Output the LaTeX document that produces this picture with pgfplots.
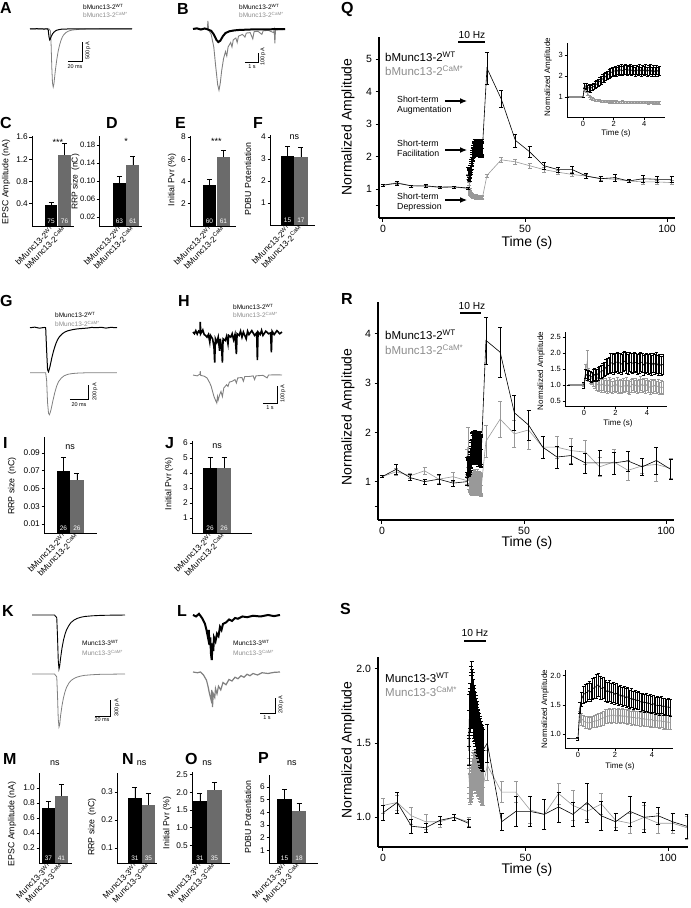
\documentclass[border=0pt]{standalone}
\usepackage{fontspec}
\setmainfont{Liberation Sans}
\usepackage{pgfplots}
\pgfplotsset{compat=1.18}
\usepackage{pgfplotstable}
\usetikzlibrary{arrows.meta}
\definecolor{barg}{gray}{0.42}
\definecolor{lng}{gray}{0.6}
\definecolor{trg}{gray}{0.5}
\definecolor{txg}{gray}{0.55}
\newcommand\fs[1]{\fontsize{#1}{#1}\selectfont}
\newcommand\wt{\textsuperscript{WT}}
\newcommand\cam{\textsuperscript{CaM*}}

\pgfplotsset{
  base/.style={scale only axis, anchor=south west, axis x line*=bottom, axis y line*=left,
    axis line style={-, black}, tick align=outside, clip mode=individual,
    /pgf/number format/assume math mode=true, tick style={black}},
  barax/.style={base, ybar, bar shift=0pt, ymin=0, xtick={0,1}, xtick style={draw=none},
    axis line style={line width=0.7pt}, major tick length=2.5pt, ytick style={line width=0.6pt},
    yticklabel style={font=\fs{8.3}, inner sep=1.5pt},
    xticklabel style={font=\fs{8.3}, rotate=45, anchor=east, inner sep=0.5pt, xshift=3pt}},
  fix1/.style={yticklabel style={/pgf/number format/fixed, /pgf/number format/fixed zerofill, /pgf/number format/precision=1}},
  fix2/.style={yticklabel style={/pgf/number format/fixed, /pgf/number format/fixed zerofill, /pgf/number format/precision=2}},
  b2/.style={xticklabels={bMunc13-2\wt, bMunc13-2\cam}},
  b3/.style={xticklabels={Munc13-3\wt, Munc13-3\cam}},
  wtbar/.style={fill=black, draw=none, /pgfplots/error bars/y dir=plus, /pgfplots/error bars/y explicit,
    /pgfplots/error bars/error bar style={black, line width=0.8pt},
    /pgfplots/error bars/error mark options={black, rotate=90, mark size=2.5pt, line width=0.8pt}},
  cambar/.style={wtbar, fill=barg},
  lineax/.style={base, axis line style={line width=1.1pt}, major tick length=3.5pt,
    tick style={line width=1pt}, ticklabel style={font=\fs{10.5}}},
  insetax/.style={base, axis line style={line width=0.8pt}, major tick length=2.5pt,
    tick style={line width=0.7pt}, ticklabel style={font=\fs{7.5}, inner sep=1.5pt}},
  wtl/.style={black, line width=0.6pt, mark=none, /pgfplots/error bars/y dir=both, /pgfplots/error bars/y explicit,
    /pgfplots/error bars/error bar style={black, line width=0.5pt},
    /pgfplots/error bars/error mark options={black, rotate=90, mark size=2pt, line width=0.5pt}},
  caml/.style={wtl, lng, /pgfplots/error bars/error bar style={lng, line width=0.5pt},
    /pgfplots/error bars/error mark options={lng, rotate=90, mark size=2pt, line width=0.5pt}},
  trace/.style={scale only axis, anchor=south west, hide axis, clip=false},
}
\tikzset{barnum/.style={font=\fs{6.5}, text=white, anchor=south, inner sep=1pt, yshift=1.5pt},
  sig/.style={font=\fs{9}},
  lett/.style={font=\fs{16}\bfseries, anchor=north west, inner sep=0pt},
  tleg/.style={font=\fs{6.5}, anchor=west, inner sep=0pt},
  sbl/.style={font=\fs{5.5}, inner sep=0pt}}

% ---------- 10 Hz train data (time from train onset, s) ----------
\pgfplotstableread[row sep=\\]{t y e\\
-1 1.00 0\\ 0 1.00 0\\
0.1 1.55 0.12\\ 0.2 1.50 0.15\\ 0.3 1.42 0.15\\ 0.4 1.45 0.15\\ 0.5 1.40 0.15\\
0.6 1.48 0.15\\ 0.7 1.50 0.15\\ 0.8 1.58 0.16\\ 0.9 1.62 0.16\\ 1.0 1.70 0.17\\
1.1 1.75 0.18\\ 1.2 1.80 0.18\\ 1.3 1.88 0.19\\ 1.4 1.92 0.20\\ 1.5 2.00 0.20\\
1.6 2.05 0.20\\ 1.7 2.10 0.20\\ 1.8 2.15 0.21\\ 1.9 2.20 0.21\\ 2.0 2.22 0.21\\
2.1 2.25 0.22\\ 2.2 2.20 0.21\\ 2.3 2.30 0.22\\ 2.4 2.25 0.22\\ 2.5 2.32 0.22\\
2.6 2.25 0.22\\ 2.7 2.30 0.22\\ 2.8 2.32 0.22\\ 2.9 2.25 0.22\\ 3.0 2.30 0.22\\
3.1 2.32 0.22\\ 3.2 2.25 0.22\\ 3.3 2.30 0.22\\ 3.4 2.22 0.22\\ 3.5 2.30 0.22\\
3.6 2.26 0.22\\ 3.7 2.32 0.22\\ 3.8 2.22 0.22\\ 3.9 2.30 0.22\\ 4.0 2.25 0.22\\
4.1 2.32 0.22\\ 4.2 2.20 0.22\\ 4.3 2.28 0.22\\ 4.4 2.32 0.22\\ 4.5 2.22 0.22\\
4.6 2.30 0.22\\ 4.7 2.20 0.22\\ 4.8 2.30 0.22\\ 4.9 2.22 0.22\\ 5.0 2.25 0.22\\
}\qwtin
\pgfplotstableread[row sep=\\]{t y e\\
-1 1.00 0\\ 0 1.00 0\\
0.1 1.38 0.08\\ 0.2 1.30 0.08\\ 0.3 1.18 0.07\\ 0.4 1.05 0.06\\ 0.5 0.97 0.06\\
0.6 0.92 0.05\\ 0.7 0.90 0.05\\ 0.8 0.87 0.05\\ 0.9 0.86 0.05\\ 1.0 0.84 0.05\\
1.1 0.83 0.05\\ 1.2 0.82 0.05\\ 1.3 0.80 0.05\\ 1.4 0.81 0.05\\ 1.5 0.79 0.05\\
1.6 0.80 0.05\\ 1.7 0.78 0.05\\ 1.8 0.79 0.05\\ 1.9 0.77 0.05\\ 2.0 0.78 0.05\\
2.1 0.77 0.05\\ 2.2 0.78 0.05\\ 2.3 0.76 0.05\\ 2.4 0.77 0.05\\ 2.5 0.76 0.05\\
2.6 0.78 0.05\\ 2.7 0.76 0.05\\ 2.8 0.77 0.05\\ 2.9 0.75 0.05\\ 3.0 0.77 0.05\\
3.1 0.76 0.05\\ 3.2 0.75 0.05\\ 3.3 0.77 0.05\\ 3.4 0.75 0.05\\ 3.5 0.76 0.05\\
3.6 0.74 0.05\\ 3.7 0.76 0.05\\ 3.8 0.75 0.05\\ 3.9 0.74 0.05\\ 4.0 0.76 0.05\\
4.1 0.74 0.05\\ 4.2 0.75 0.05\\ 4.3 0.73 0.05\\ 4.4 0.75 0.05\\ 4.5 0.74 0.05\\
4.6 0.73 0.05\\ 4.7 0.75 0.05\\ 4.8 0.73 0.05\\ 4.9 0.74 0.05\\ 5.0 0.73 0.05\\
}\qcamin
\pgfplotstableread[row sep=\\]{t y e\\
-1 1.00 0\\ 0 1.00 0.10\\
0.1 1.35 0.15\\ 0.2 1.30 0.15\\ 0.3 1.32 0.15\\ 0.4 1.28 0.15\\ 0.5 1.25 0.15\\
0.6 1.30 0.18\\ 0.7 1.33 0.18\\ 0.8 1.30 0.18\\ 0.9 1.36 0.20\\ 1.0 1.40 0.20\\
1.1 1.42 0.20\\ 1.2 1.45 0.22\\ 1.3 1.50 0.22\\ 1.4 1.55 0.25\\ 1.5 1.60 0.25\\
1.6 1.62 0.25\\ 1.7 1.68 0.30\\ 1.8 1.70 0.30\\ 1.9 1.65 0.30\\ 2.0 1.70 0.30\\
2.1 1.72 0.30\\ 2.2 1.68 0.30\\ 2.3 1.70 0.30\\ 2.4 1.65 0.30\\ 2.5 1.72 0.30\\
2.6 1.75 0.30\\ 2.7 1.70 0.32\\ 2.8 1.65 0.30\\ 2.9 1.72 0.30\\ 3.0 1.70 0.30\\
3.1 1.68 0.30\\ 3.2 1.72 0.30\\ 3.3 1.70 0.30\\ 3.4 1.65 0.30\\ 3.5 1.68 0.30\\
3.6 1.72 0.30\\ 3.7 1.70 0.30\\ 3.8 1.62 0.30\\ 3.9 1.66 0.30\\ 4.0 1.70 0.30\\
4.1 1.65 0.30\\ 4.2 1.68 0.30\\ 4.3 1.62 0.30\\ 4.4 1.70 0.30\\ 4.5 1.65 0.30\\
4.6 1.70 0.32\\ 4.7 1.62 0.30\\ 4.8 1.66 0.30\\ 4.9 1.60 0.30\\ 5.0 1.65 0.30\\
}\rwtin
\pgfplotstableread[row sep=\\]{t y e\\
-1 1.00 0\\ 0 1.00 0.05\\
0.1 1.40 0.25\\ 0.2 1.70 0.40\\ 0.3 1.32 0.20\\ 0.4 1.25 0.18\\ 0.5 1.20 0.18\\
0.6 1.15 0.18\\ 0.7 1.10 0.20\\ 0.8 1.05 0.20\\ 0.9 1.00 0.20\\ 1.0 1.02 0.20\\
1.1 0.98 0.20\\ 1.2 1.03 0.20\\ 1.3 0.96 0.20\\ 1.4 1.00 0.20\\ 1.5 0.95 0.20\\
1.6 1.02 0.22\\ 1.7 0.97 0.20\\ 1.8 0.93 0.20\\ 1.9 1.00 0.20\\ 2.0 0.96 0.20\\
2.1 1.02 0.22\\ 2.2 0.95 0.20\\ 2.3 0.98 0.20\\ 2.4 0.94 0.20\\ 2.5 1.00 0.20\\
2.6 0.96 0.20\\ 2.7 1.03 0.22\\ 2.8 0.95 0.20\\ 2.9 0.92 0.20\\ 3.0 0.98 0.20\\
3.1 1.02 0.20\\ 3.2 0.96 0.20\\ 3.3 1.00 0.20\\ 3.4 0.94 0.20\\ 3.5 0.98 0.20\\
3.6 1.04 0.22\\ 3.7 0.97 0.20\\ 3.8 1.00 0.20\\ 3.9 0.95 0.20\\ 4.0 1.02 0.20\\
4.1 0.96 0.20\\ 4.2 0.92 0.20\\ 4.3 0.98 0.20\\ 4.4 0.94 0.20\\ 4.5 0.99 0.20\\
4.6 0.93 0.20\\ 4.7 0.97 0.20\\ 4.8 0.90 0.20\\ 4.9 0.95 0.20\\ 5.0 0.92 0.20\\
}\rcamin
\pgfplotstableread[row sep=\\]{t y e\\
-0.5 0.92 0\\ 0 0.92 0.02\\
0.1 1.45 0.10\\ 0.2 1.60 0.12\\ 0.3 1.68 0.15\\ 0.4 1.70 0.15\\ 0.5 1.72 0.15\\
0.6 1.75 0.15\\ 0.7 1.72 0.15\\ 0.8 1.78 0.18\\ 0.9 1.80 0.18\\ 1.0 1.82 0.20\\
1.1 1.85 0.20\\ 1.2 1.80 0.20\\ 1.3 1.78 0.18\\ 1.4 1.80 0.18\\ 1.5 1.75 0.18\\
1.6 1.72 0.17\\ 1.7 1.75 0.18\\ 1.8 1.70 0.17\\ 1.9 1.72 0.17\\ 2.0 1.68 0.17\\
2.1 1.70 0.17\\ 2.2 1.66 0.16\\ 2.3 1.68 0.16\\ 2.4 1.64 0.16\\ 2.5 1.66 0.16\\
2.6 1.62 0.16\\ 2.7 1.64 0.16\\ 2.8 1.60 0.16\\ 2.9 1.62 0.16\\ 3.0 1.58 0.16\\
3.1 1.60 0.16\\ 3.2 1.57 0.15\\ 3.3 1.58 0.15\\ 3.4 1.55 0.15\\ 3.5 1.56 0.15\\
3.6 1.53 0.15\\ 3.7 1.55 0.15\\ 3.8 1.52 0.15\\ 3.9 1.53 0.15\\ 4.0 1.50 0.15\\
4.1 1.52 0.15\\ 4.2 1.49 0.15\\ 4.3 1.50 0.15\\ 4.4 1.48 0.15\\ 4.5 1.50 0.15\\
4.6 1.47 0.14\\ 4.7 1.48 0.14\\ 4.8 1.46 0.14\\ 4.9 1.47 0.14\\ 5.0 1.45 0.14\\
}\swtin
\pgfplotstableread[row sep=\\]{t y e\\
-0.5 0.92 0\\ 0 0.92 0.02\\
0.1 1.30 0.10\\ 0.2 1.26 0.10\\ 0.3 1.23 0.10\\ 0.4 1.20 0.10\\ 0.5 1.20 0.10\\
0.6 1.19 0.10\\ 0.7 1.20 0.10\\ 0.8 1.21 0.10\\ 0.9 1.22 0.10\\ 1.0 1.23 0.11\\
1.1 1.24 0.11\\ 1.2 1.25 0.11\\ 1.3 1.27 0.11\\ 1.4 1.28 0.12\\ 1.5 1.30 0.12\\
1.6 1.30 0.12\\ 1.7 1.32 0.12\\ 1.8 1.31 0.12\\ 1.9 1.33 0.12\\ 2.0 1.32 0.12\\
2.1 1.31 0.12\\ 2.2 1.33 0.12\\ 2.3 1.30 0.12\\ 2.4 1.32 0.12\\ 2.5 1.30 0.12\\
2.6 1.31 0.12\\ 2.7 1.29 0.12\\ 2.8 1.30 0.12\\ 2.9 1.28 0.12\\ 3.0 1.29 0.12\\
3.1 1.28 0.12\\ 3.2 1.27 0.12\\ 3.3 1.28 0.12\\ 3.4 1.26 0.12\\ 3.5 1.27 0.12\\
3.6 1.25 0.12\\ 3.7 1.26 0.12\\ 3.8 1.25 0.12\\ 3.9 1.24 0.12\\ 4.0 1.25 0.12\\
4.1 1.23 0.12\\ 4.2 1.24 0.12\\ 4.3 1.23 0.12\\ 4.4 1.22 0.12\\ 4.5 1.23 0.12\\
4.6 1.21 0.12\\ 4.7 1.22 0.12\\ 4.8 1.21 0.12\\ 4.9 1.20 0.12\\ 5.0 1.20 0.12\\
}\scamin

% ---------- 0.2 Hz test pulses before and after the train ----------
\pgfplotstableread[row sep=\\]{t y e\\ 0 1.12 0.03\\ 5 1.18 0.05\\ 10 1.10 0.03\\ 15 1.10 0.04\\ 20 1.06 0.04\\ 25 1.07 0.03\\ 30 1.03 0.04\\}\qwtpre
\pgfplotstableread[row sep=\\]{t y e\\ 0 1.12 0.03\\ 5 1.20 0.04\\ 10 1.10 0.03\\ 15 1.09 0.03\\ 20 1.05 0.03\\ 25 1.06 0.03\\ 30 1.02 0.03\\}\qcampre
\pgfplotstableread[row sep=\\]{t y e\\ 35 2.25 0\\ 36.6 4.72 0.50\\ 41.6 3.78 0.25\\ 46.6 2.50 0.20\\ 51.6 2.15 0.18\\ 56.6 1.72 0.10\\ 61.6 1.60 0.08\\ 66.6 1.60 0.10\\ 71.6 1.40 0.08\\ 76.6 1.32 0.07\\ 81.6 1.35 0.10\\ 86.6 1.25 0.05\\ 91.6 1.32 0.10\\ 96.6 1.30 0.08\\ 101.6 1.30 0.08\\}\qwtpost
\pgfplotstableread[row sep=\\]{t y e\\ 35 0.73 0\\ 36.6 1.42 0.05\\ 41.6 1.90 0.08\\ 46.6 1.84 0.07\\ 51.6 1.72 0.08\\ 56.6 1.60 0.07\\ 61.6 1.52 0.06\\ 66.6 1.45 0.07\\ 71.6 1.40 0.06\\ 76.6 1.33 0.05\\ 81.6 1.30 0.06\\ 86.6 1.25 0.05\\ 91.6 1.22 0.07\\ 96.6 1.22 0.06\\ 101.6 1.20 0.06\\}\qcampost
\pgfplotstableread[row sep=\\]{t y e\\ 0 1.10 0.02\\ 5 1.25 0.10\\ 10 1.08 0.06\\ 15 1.00 0.05\\ 20 1.05 0.10\\ 25 0.97 0.06\\ 30 1.00 0.08\\}\rwtpre
\pgfplotstableread[row sep=\\]{t y e\\ 0 1.10 0.02\\ 5 1.20 0.08\\ 10 1.12 0.05\\ 15 1.22 0.08\\ 20 1.05 0.08\\ 25 1.10 0.10\\ 30 1.02 0.08\\}\rcampre
\pgfplotstableread[row sep=\\]{t y e\\ 35 1.65 0\\ 36.6 3.87 0.48\\ 41.6 3.63 0.50\\ 46.6 2.40 0.35\\ 51.6 2.15 0.30\\ 56.6 1.70 0.22\\ 61.6 1.50 0.22\\ 66.6 1.53 0.18\\ 71.6 1.38 0.20\\ 76.6 1.38 0.25\\ 81.6 1.38 0.22\\ 86.6 1.42 0.20\\ 91.6 1.30 0.18\\ 96.6 1.43 0.27\\ 101.6 1.25 0.20\\}\rwtpost
\pgfplotstableread[row sep=\\]{t y e\\ 35 0.92 0\\ 36.6 1.82 0.32\\ 41.6 2.27 0.37\\ 46.6 1.97 0.28\\ 51.6 2.05 0.40\\ 56.6 1.70 0.22\\ 61.6 1.70 0.22\\ 66.6 1.63 0.25\\ 71.6 1.60 0.25\\ 76.6 1.30 0.20\\ 81.6 1.40 0.25\\ 86.6 1.23 0.20\\ 91.6 1.32 0.15\\ 96.6 1.35 0.35\\ 101.6 1.27 0.20\\}\rcampost
\pgfplotstableread[row sep=\\]{t y e\\ 0 1.03 0.05\\ 5 1.10 0.07\\ 10 0.94 0.05\\ 15 0.93 0.03\\ 20 0.98 0.03\\ 25 1.00 0.02\\ 30 0.96 0.03\\}\swtpre
\pgfplotstableread[row sep=\\]{t y e\\ 0 1.08 0.05\\ 5 1.10 0.05\\ 10 1.01 0.06\\ 15 0.97 0.05\\ 20 0.97 0.04\\ 25 1.00 0.02\\ 30 0.97 0.03\\}\scampre
\pgfplotstableread[row sep=\\]{t y e\\ 35 1.45 0\\ 36.6 1.50 0.13\\ 41.6 0.97 0.06\\ 46.6 1.04 0.10\\ 51.6 1.04 0.10\\ 56.6 1.02 0.10\\ 61.6 1.07 0.10\\ 66.6 1.02 0.08\\ 71.6 1.10 0.13\\ 76.6 1.01 0.10\\ 81.6 0.97 0.06\\ 86.6 1.04 0.10\\ 91.6 1.00 0.10\\ 96.6 1.01 0.06\\ 101.6 0.97 0.06\\ 106.6 0.94 0.08\\}\swtpost
\pgfplotstableread[row sep=\\]{t y e\\ 35 1.20 0\\ 36.6 1.35 0.10\\ 41.6 1.17 0.07\\ 46.6 1.17 0.07\\ 51.6 1.05 0.09\\ 56.6 1.02 0.10\\ 61.6 1.16 0.07\\ 66.6 1.08 0.10\\ 71.6 1.04 0.05\\ 76.6 1.09 0.07\\ 81.6 0.98 0.05\\ 86.6 0.96 0.07\\ 91.6 1.00 0.08\\ 96.6 0.96 0.07\\ 101.6 0.96 0.07\\ 106.6 0.93 0.08\\}\scampost

\begin{document}
\begin{tikzpicture}
\path[use as bounding box] (0,0) rectangle (691pt,-908pt);

% ===================== traces =====================
% A
\begin{axis}[trace, at={(30pt,-89pt)}, width=102pt, height=64pt, xmin=0, xmax=145, ymin=-1550, ymax=100]
\addplot[trg, line width=0.8pt] coordinates {(0,0) (27,0) (29,-50) (30,-400) (31,-1000) (32,-1400) (33,-1500) (34,-1420) (35,-1250) (36,-1080) (38,-800) (40,-580) (42,-420) (44,-300) (46,-210) (48,-150) (51,-95) (55,-55) (60,-30) (70,-12) (80,-5) (100,0) (145,0)};
\addplot[black, line width=1pt] coordinates {(0,0) (10,4) (20,-4) (25,0) (26,-40) (27,-200) (28,-285) (29,-260) (30,-200) (32,-130) (34,-85) (36,-55) (38,-35) (41,-20) (44,-10) (48,-5) (60,0) (70,-3) (80,0) (90,2) (100,0) (110,-2) (120,0) (130,2) (145,0)};
\addplot[black, line width=0.9pt] coordinates {(54,-836) (74,-836) (74,-336)};
\end{axis}
% B
\begin{axis}[trace, at={(193pt,-92pt)}, width=92pt, height=72pt, xmin=0, xmax=7.08, ymin=-700, ymax=100]
\addplot[trg, line width=0.9pt] coordinates {(0,0) (1.1,0) (1.15,90) (1.2,-10) (1.4,-60) (1.6,-200) (1.75,-420) (1.9,-620) (2.0,-680) (2.1,-600) (2.2,-470) (2.35,-330) (2.5,-250) (2.6,-300) (2.7,-200) (2.9,-150) (3.0,-200) (3.1,-120) (3.3,-100) (3.4,-150) (3.5,-80) (3.8,-60) (4.0,-90) (4.1,-45) (4.4,-40) (4.6,-110) (4.7,-30) (5.0,-25) (5.3,-60) (5.4,-20) (5.8,-15) (6.2,-40) (6.25,-10) (6.3,-160) (6.35,-10) (7.08,-5)};
\addplot[black, line width=2pt] coordinates {(0,0) (0.3,8) (0.6,-6) (0.9,6) (1.1,-3) (1.4,-20) (1.6,-60) (1.8,-120) (1.95,-145) (2.1,-130) (2.3,-80) (2.5,-45) (2.8,-25) (3.2,-15) (3.6,-10) (4.0,-8) (4.5,-5) (5.0,-5) (5.5,-3) (6.0,-3) (6.5,0) (7.08,0)};
\addplot[black, line width=0.9pt] coordinates {(4.0,-367) (5.0,-367) (5.0,-267)};
\end{axis}
% G
\begin{axis}[trace, at={(30pt,-420pt)}, width=87pt, height=100.3pt, xmin=0, xmax=91.6, ymin=-1230, ymax=107]
\addplot[black, line width=1pt] coordinates {(0,0) (5,8) (10,-6) (15,4) (16.5,0) (17.5,-300) (18.5,-560) (19.5,-587) (21,-520) (23,-400) (25,-300) (27,-220) (29,-160) (31,-120) (34,-80) (37,-55) (40,-40) (45,-25) (50,-15) (55,-10) (60,-5) (65,4) (70,0) (75,6) (80,-5) (85,5) (91.6,0)};
\addplot[trg, line width=0.8pt] coordinates {(0,-600) (16.5,-600) (17.5,-700) (18.5,-1000) (19.5,-1140) (20.5,-1160) (22,-1100) (24,-980) (26,-870) (28,-780) (30,-720) (33,-670) (36,-640) (40,-620) (45,-610) (50,-605) (60,-600) (91.6,-600)};
\addplot[black, line width=0.9pt] coordinates {(42,-960) (62,-960) (62,-760)};
\end{axis}
% H
\begin{axis}[trace, at={(193pt,-410pt)}, width=89pt, height=88pt, xmin=0, xmax=6.36, ymin=-459, ymax=59]
\addplot[black, line width=1.6pt] coordinates {(0,0) (0.1,-10) (0.2,8) (0.3,-12) (0.4,5) (0.5,-5) (0.52,60) (0.55,-10) (0.7,12) (0.8,-15) (0.9,-20) (1.0,-30) (1.1,-15) (1.2,-60) (1.25,-20) (1.4,-40) (1.5,-90) (1.55,-180) (1.6,-40) (1.7,-60) (1.8,-30) (1.9,-110) (1.95,-40) (2.05,-100) (2.1,-180) (2.15,-40) (2.3,-50) (2.4,-25) (2.5,-70) (2.55,-20) (2.7,-30) (2.8,-10) (2.9,-45) (3.0,-15) (3.1,-130) (3.15,-10) (3.3,-20) (3.4,5) (3.5,-30) (3.6,0) (3.8,-40) (3.9,5) (4.0,-15) (4.2,8) (4.4,-20) (4.55,-5) (4.6,-165) (4.65,0) (4.8,-15) (4.9,10) (5.0,-20) (5.2,5) (5.4,-10) (5.55,-5) (5.6,-120) (5.65,5) (5.8,-15) (6.0,8) (6.2,-10) (6.36,0)};
\addplot[trg, line width=0.9pt] coordinates {(0,-253) (0.3,-258) (0.5,-248) (0.52,-230) (0.55,-255) (0.8,-260) (1.0,-270) (1.2,-300) (1.3,-320) (1.4,-350) (1.5,-380) (1.6,-400) (1.7,-418) (1.75,-380) (1.8,-400) (1.9,-370) (2.0,-350) (2.1,-380) (2.2,-330) (2.4,-310) (2.5,-320) (2.6,-295) (2.8,-290) (3.0,-280) (3.1,-300) (3.2,-270) (3.5,-268) (3.6,-290) (3.7,-262) (4.0,-262) (4.3,-258) (4.4,-280) (4.5,-258) (5.0,-255) (5.3,-270) (5.4,-253) (6.0,-252) (6.36,-253)};
\addplot[black, line width=0.9pt] coordinates {(5.0,-418) (6.0,-418) (6.0,-318)};
\end{axis}
% K
\begin{axis}[trace, at={(32pt,-730pt)}, width=93pt, height=120pt, xmin=0, xmax=124, ymin=-2157, ymax=94]
\addplot[black, line width=0.9pt] coordinates {(0,0) (30,0) (33,-50) (34,-400) (35,-850) (36,-1013) (37,-950) (38,-820) (40,-620) (42,-470) (44,-360) (46,-280) (49,-200) (52,-140) (56,-95) (60,-65) (65,-42) (70,-28) (80,-15) (90,-8) (100,-4) (124,0)};
\addplot[trg, line width=0.8pt] coordinates {(0,-1106) (30,-1106) (33,-1160) (34,-1500) (35,-1950) (36,-2100) (37,-2050) (38,-1900) (40,-1700) (42,-1550) (44,-1440) (46,-1360) (49,-1280) (52,-1230) (56,-1190) (60,-1165) (65,-1145) (70,-1132) (80,-1120) (90,-1113) (124,-1106)};
\addplot[black, line width=0.9pt] coordinates {(84,-1895) (104,-1895) (104,-1595)};
\end{axis}
% L
\begin{axis}[trace, at={(193pt,-716pt)}, width=87pt, height=108pt, xmin=0, xmax=5.8, ymin=-1347, ymax=93]
\addplot[black, line width=2pt] coordinates {(0,0) (0.2,-20) (0.4,15) (0.6,-40) (0.8,-120) (0.9,-200) (1.0,-300) (1.05,-200) (1.1,-400) (1.15,-300) (1.2,-520) (1.25,-600) (1.3,-380) (1.35,-480) (1.4,-300) (1.5,-350) (1.6,-250) (1.7,-280) (1.8,-160) (1.9,-200) (2.0,-120) (2.2,-100) (2.4,-60) (2.6,-80) (2.8,-40) (3.0,-50) (3.3,-20) (3.6,-30) (4.0,-10) (4.5,-20) (5.0,0) (5.4,-15) (5.8,0)};
\addplot[trg, line width=1.2pt] coordinates {(0,-760) (0.3,-770) (0.5,-760) (0.7,-800) (0.9,-870) (1.0,-950) (1.1,-1050) (1.2,-1130) (1.25,-1000) (1.3,-1227) (1.35,-1050) (1.45,-1100) (1.5,-980) (1.6,-1050) (1.7,-950) (1.85,-1000) (2.0,-900) (2.2,-930) (2.4,-860) (2.6,-880) (2.8,-830) (3.0,-850) (3.2,-810) (3.4,-830) (3.6,-790) (3.8,-810) (4.0,-780) (4.3,-800) (4.6,-770) (5.0,-780) (5.4,-765) (5.8,-760)};
\addplot[black, line width=0.9pt] coordinates {(4.47,-1307) (5.47,-1307) (5.47,-1107)};
\end{axis}

% ===================== bar panels =====================
% C
\begin{axis}[barax, b2, fix1, at={(32pt,-226pt)}, width=42pt, height=90pt, xmin=-1.41, xmax=1.70, ymax=1.62, ytick={0.4,0.8,1.2,1.6}, bar width=12.5pt]
\addplot[wtbar] coordinates {(0,0.38) +- (0,0.05)};
\addplot[cambar] coordinates {(1,1.28) +- (0,0.21)};
\node[barnum] at (axis cs:0,0) {75}; \node[barnum] at (axis cs:1,0) {76};
\node[sig] at (axis cs:0.5,1.51) {***};
\end{axis}
% D
\begin{axis}[barax, b2, fix2, at={(99pt,-226pt)}, width=43pt, height=90pt, xmin=-1.52, xmax=1.67, ymax=0.2, ytick={0.02,0.06,0.10,0.14,0.18}, bar width=13pt,
  yticklabel style={font=\fs{7.8}, inner sep=1pt}]
\addplot[wtbar] coordinates {(0,0.096) +- (0,0.015)};
\addplot[cambar] coordinates {(1,0.135) +- (0,0.019)};
\node[barnum] at (axis cs:0,0) {63}; \node[barnum] at (axis cs:1,0) {61};
\node[sig] at (axis cs:0.5,0.187) {*};
\end{axis}
% E
\begin{axis}[barax, b2, at={(190pt,-226pt)}, width=46pt, height=90pt, xmin=-1.39, xmax=1.9, ymax=8.1, ytick={2,4,6,8}, bar width=13.5pt]
\addplot[wtbar] coordinates {(0,3.7) +- (0,0.45)};
\addplot[cambar] coordinates {(1,6.2) +- (0,0.6)};
\node[barnum] at (axis cs:0,0) {60}; \node[barnum] at (axis cs:1,0) {61};
\node[sig] at (axis cs:0.5,7.6) {***};
\end{axis}
% F
\begin{axis}[barax, b2, at={(270pt,-225pt)}, width=45pt, height=90pt, xmin=-1.3, xmax=2.04, ymax=4.09, ytick={1,2,3,4}, bar width=13.5pt]
\addplot[wtbar] coordinates {(0,3.12) +- (0,0.43)};
\addplot[cambar] coordinates {(1,3.08) +- (0,0.45)};
\node[barnum] at (axis cs:0,0) {15}; \node[barnum] at (axis cs:1,0) {17};
\node[sig] at (axis cs:0.5,4.0) {ns};
\end{axis}
% I
\begin{axis}[barax, b2, fix2, at={(44pt,-533pt)}, width=53pt, height=96pt, xmin=-1.44, xmax=2.48, ymax=0.108, ytick={0.01,0.03,0.05,0.07,0.09}, bar width=13.5pt]
\addplot[wtbar] coordinates {(0,0.070) +- (0,0.0145)};
\addplot[cambar] coordinates {(1,0.0595) +- (0,0.008)};
\node[barnum] at (axis cs:0,0) {26}; \node[barnum] at (axis cs:1,0) {26};
\node[sig] at (axis cs:0.5,0.097) {ns};
\end{axis}
% J
\begin{axis}[barax, b2, at={(192pt,-533pt)}, width=60pt, height=92pt, xmin=-1.29, xmax=3.0, ymax=6.13, ytick={1,2,3,4,5,6}, bar width=14pt]
\addplot[wtbar] coordinates {(0,4.35) +- (0,0.68)};
\addplot[cambar] coordinates {(1,4.32) +- (0,0.7)};
\node[barnum] at (axis cs:0,0) {26}; \node[barnum] at (axis cs:1,0) {26};
\node[sig] at (axis cs:0.5,5.8) {ns};
\end{axis}
% M
\begin{axis}[barax, b3, fix1, at={(39pt,-863pt)}, width=33pt, height=90pt, xmin=-0.73, xmax=1.81, ymax=1.2, ytick={0.2,0.4,0.6,0.8,1.0}, bar width=13pt]
\addplot[wtbar] coordinates {(0,0.73) +- (0,0.085)};
\addplot[cambar] coordinates {(1,0.89) +- (0,0.16)};
\node[barnum] at (axis cs:0,0) {37}; \node[barnum] at (axis cs:1,0) {41};
\node[sig] at (axis cs:0.5,1.33) {ns};
\end{axis}
% N
\begin{axis}[barax, b3, fix1, at={(117pt,-863pt)}, width=40pt, height=90pt, xmin=-1.33, xmax=1.63, ymin=0.046, ymax=0.368, ytick={0.1,0.2,0.3}, bar width=13.5pt]
\addplot[wtbar] coordinates {(0,0.277) +- (0,0.038)};
\addplot[cambar] coordinates {(1,0.252) +- (0,0.043)};
\node[barnum] at (axis cs:0,0.046) {31}; \node[barnum] at (axis cs:1,0.046) {35};
\node[sig] at (axis cs:0.5,0.403) {ns};
\end{axis}
% O
\begin{axis}[barax, b3, fix1, at={(192pt,-863pt)}, width=38pt, height=91pt, xmin=-0.55, xmax=2.07, ymax=2.57, ytick={0.5,1.0,1.5,2.0,2.5}, bar width=14.5pt]
\addplot[wtbar] coordinates {(0,1.74) +- (0,0.22)};
\addplot[cambar] coordinates {(1,2.07) +- (0,0.2)};
\node[barnum] at (axis cs:0,0) {31}; \node[barnum] at (axis cs:1,0) {35};
\node[sig] at (axis cs:0.5,2.82) {ns};
\end{axis}
% P
\begin{axis}[barax, b3, at={(269pt,-863pt)}, width=49pt, height=88pt, xmin=-1.07, xmax=2.31, ymax=6.95, ytick={1,2,3,4,5,6}, bar width=14.5pt]
\addplot[wtbar] coordinates {(0,5.02) +- (0,0.78)};
\addplot[cambar] coordinates {(1,4.12) +- (0,0.6)};
\node[barnum] at (axis cs:0,0) {15}; \node[barnum] at (axis cs:1,0) {18};
\node[sig] at (axis cs:0.5,7.9) {ns};
\end{axis}

% ===================== Q =====================
\begin{axis}[lineax, at={(379pt,-218pt)}, width=296pt, height=181pt, xmin=-1.4, xmax=102.8, ymin=0.11, ymax=5.68,
  xtick={0,50,100}, ytick={0.5,1,2,3,4,5}, yticklabels={,1,2,3,4,5}]
\addplot[caml] table[x=t, y=y, y error=e] {\qcampre};
\addplot[caml, skip coords between index={0}{2}] table[x expr=\thisrow{t}+30, y=y, y error=e] {\qcamin};
\addplot[caml] table[x=t, y=y, y error=e] {\qcampost};
\addplot[wtl] table[x=t, y=y, y error=e] {\qwtpre};
\addplot[wtl, skip coords between index={0}{2}] table[x expr=\thisrow{t}+30, y=y, y error=e] {\qwtin};
\addplot[wtl] table[x=t, y=y, y error=e] {\qwtpost};
\end{axis}
\begin{axis}[insetax, at={(567pt,-117pt)}, width=98pt, height=74pt, xmin=-1.05, xmax=5.36, ymin=0.05, ymax=3.57, xtick={0,2,4}, ytick={1,2,3}]
\addplot[caml, /pgfplots/error bars/error mark options={lng, rotate=90, mark size=1.5pt}] table[x=t, y=y, y error=e] {\qcamin};
\addplot[wtl, /pgfplots/error bars/error mark options={black, rotate=90, mark size=1.5pt}] table[x=t, y=y, y error=e] {\qwtin};
\end{axis}

% ===================== R =====================
\begin{axis}[lineax, at={(378pt,-520pt)}, width=296pt, height=218pt, xmin=-1.4, xmax=102.8, ymin=0.22, ymax=4.65,
  xtick={0,50,100}, ytick={0.5,1,2,3,4}, yticklabels={,1,2,3,4}]
\addplot[caml] table[x=t, y=y, y error=e] {\rcampre};
\addplot[caml, skip coords between index={0}{2}] table[x expr=\thisrow{t}+30, y=y, y error=e] {\rcamin};
\addplot[caml] table[x=t, y=y, y error=e] {\rcampost};
\addplot[wtl] table[x=t, y=y, y error=e] {\rwtpre};
\addplot[wtl, skip coords between index={0}{2}] table[x expr=\thisrow{t}+30, y=y, y error=e] {\rwtin};
\addplot[wtl] table[x=t, y=y, y error=e] {\rwtpost};
\end{axis}
\begin{axis}[insetax, fix1, at={(565pt,-406pt)}, width=102pt, height=74pt, xmin=-1.2, xmax=5.27, ymin=0.34, ymax=2.66, xtick={0,2,4}, ytick={0.5,1.0,1.5,2.0,2.5}]
\addplot[caml, /pgfplots/error bars/error mark options={lng, rotate=90, mark size=1.5pt}] table[x=t, y=y, y error=e] {\rcamin};
\addplot[wtl, /pgfplots/error bars/error mark options={black, rotate=90, mark size=1.5pt}] table[x=t, y=y, y error=e] {\rwtin};
\end{axis}

% ===================== S =====================
\begin{axis}[lineax, fix1, at={(378pt,-847pt)}, width=310pt, height=190pt, xmin=-1.75, xmax=107, ymin=0.8, ymax=2.08,
  xtick={0,50,100}, ytick={1.0,1.5,2.0}]
\addplot[caml] table[x=t, y=y, y error=e] {\scampre};
\addplot[caml, skip coords between index={0}{2}] table[x expr=\thisrow{t}+30, y=y, y error=e] {\scamin};
\addplot[caml] table[x=t, y=y, y error=e] {\scampost};
\addplot[wtl] table[x=t, y=y, y error=e] {\swtpre};
\addplot[wtl, skip coords between index={0}{2}] table[x expr=\thisrow{t}+30, y=y, y error=e] {\swtin};
\addplot[wtl] table[x=t, y=y, y error=e] {\swtpost};
\end{axis}
\begin{axis}[insetax, fix1, at={(565pt,-748pt)}, width=108pt, height=78pt, xmin=-0.7, xmax=5.14, ymin=0.76, ymax=2.1, xtick={0,2,4}, ytick={1.0,1.5,2.0}]
\addplot[caml, /pgfplots/error bars/error mark options={lng, rotate=90, mark size=1.5pt}] table[x=t, y=y, y error=e] {\scamin};
\addplot[wtl, /pgfplots/error bars/error mark options={black, rotate=90, mark size=1.5pt}] table[x=t, y=y, y error=e] {\swtin};
\end{axis}

% ===================== text =====================
\begin{scope}[x=1pt, y=-1pt]
% panel letters
\foreach \l/\x/\y in {A/0/2, B/177/3, C/0/117, D/106/117, E/175/117, F/253/117, Q/341/2,
  G/0/295, H/178/295, R/341/293, I/3/437, J/165/437, K/2/605, L/177/605, S/340/603,
  M/3/753, N/122/753, O/185/753, P/258/752}
  \node[lett] at (\x,\y) {\l};
% trace legends
\node[tleg] at (83,7) {bMunc13-2\wt}; \node[tleg, text=txg] at (83,15) {bMunc13-2\cam};
\node[tleg] at (239,7) {bMunc13-2\wt}; \node[tleg, text=txg] at (239,15) {bMunc13-2\cam};
\node[tleg] at (55,315) {bMunc13-2\wt}; \node[tleg, text=txg] at (55,324) {bMunc13-2\cam};
\node[tleg] at (233,307) {bMunc13-2\wt}; \node[tleg, text=txg] at (233,315) {bMunc13-2\cam};
\node[tleg] at (82,643) {Munc13-3\wt}; \node[tleg, text=txg] at (82,653) {Munc13-3\cam};
\node[tleg] at (233,643) {Munc13-3\wt}; \node[tleg, text=txg] at (233,653) {Munc13-3\cam};
% scale bar labels
\node[sbl] at (75,67) {20 ms}; \node[sbl, rotate=90] at (88,51) {500 pA};
\node[sbl] at (252,67) {1 s}; \node[sbl, rotate=90] at (263,57) {100 pA};
\node[sbl] at (79,405) {20 ms}; \node[sbl, rotate=90] at (95,392) {200 pA};
\node[sbl] at (270,408) {1 s}; \node[sbl, rotate=90] at (283,394) {100 pA};
\node[sbl] at (102,720) {20 ms}; \node[sbl, rotate=90] at (117,708) {300 pA};
\node[sbl] at (267,718) {1 s}; \node[sbl, rotate=90] at (281,705) {200 pA};
% bar y labels
\begin{scope}[every node/.style={font=\fs{8.8}, rotate=90, inner sep=0pt}]
\node at (6,182) {EPSC Amplitude (nA)};
\node[font=\fs{8.5}] at (75.5,182) {RRP size\, (nC)};
\node at (172,180) {Initial Pvr (\%)};
\node at (248,179) {PDBU Potentiation};
\node at (12,486) {RRP size\, (nC)};
\node at (169,484) {Initial Pvr (\%)};
\node at (12,824) {EPSC Amplitude (nA)};
\node at (92,827) {RRP size\, (nC)};
\node at (167,823) {Initial Pvr (\%)};
\node at (248,817) {PDBU Potentiation};
\end{scope}
% Q/R/S labels
\begin{scope}[every node/.style={font=\fs{14}, inner sep=0pt}]
\node[rotate=90] at (348,127) {Normalized Amplitude};
\node[rotate=90] at (348,417) {Normalized Amplitude};
\node[rotate=90] at (348,750) {Normalized Amplitude};
\node at (527,243) {Time (s)};
\node at (527,543) {Time (s)};
\node at (527,870) {Time (s)};
\end{scope}
\begin{scope}[every node/.style={font=\fs{8}, inner sep=0pt}]
\node[rotate=90] at (548,77) {Normalized Amplitude}; \node at (616,133) {Time (s)};
\node[rotate=90] at (541,371) {Normalized Amplitude}; \node at (618,423) {Time (s)};
\node[rotate=90] at (545,709) {Normalized Amplitude}; \node at (620,766) {Time (s)};
\end{scope}
% legends
\begin{scope}[every node/.style={font=\fs{11.5}, anchor=west, inner sep=0pt}]
\node at (385,57) {bMunc13-2\wt}; \node[text=txg] at (385,71) {bMunc13-2\cam};
\node at (385,335) {bMunc13-2\wt}; \node[text=txg] at (385,350) {bMunc13-2\cam};
\node at (385,678) {Munc13-3\wt}; \node[text=txg] at (385,692) {Munc13-3\cam};
\end{scope}
% 10 Hz bars
\node[font=\fs{10.2}] at (472,35) {10 Hz}; \draw[line width=1.2pt] (458,42) -- (485,42);
\node[font=\fs{10.2}] at (472,306) {10 Hz}; \draw[line width=1.2pt] (460,313) -- (481,313);
\node[font=\fs{10.2}] at (475,633) {10 Hz}; \draw[line width=1.2pt] (464,641) -- (486,641);
% annotations Q
\begin{scope}[every node/.style={font=\fs{8.8}, anchor=west, inner sep=0pt}]
\node at (397,99) {Short-term}; \node at (397,110) {Augmentation};
\node at (397,143) {Short-term}; \node at (397,153) {Facilitation};
\node at (397,196) {Short-term}; \node at (397,207) {Depression};
\end{scope}
\foreach \y in {101,150,200}
  \draw[line width=1.1pt, -{Latex[length=7pt,width=6pt]}] (445,\y) -- (467,\y);
\end{scope}
\end{tikzpicture}
\end{document}
